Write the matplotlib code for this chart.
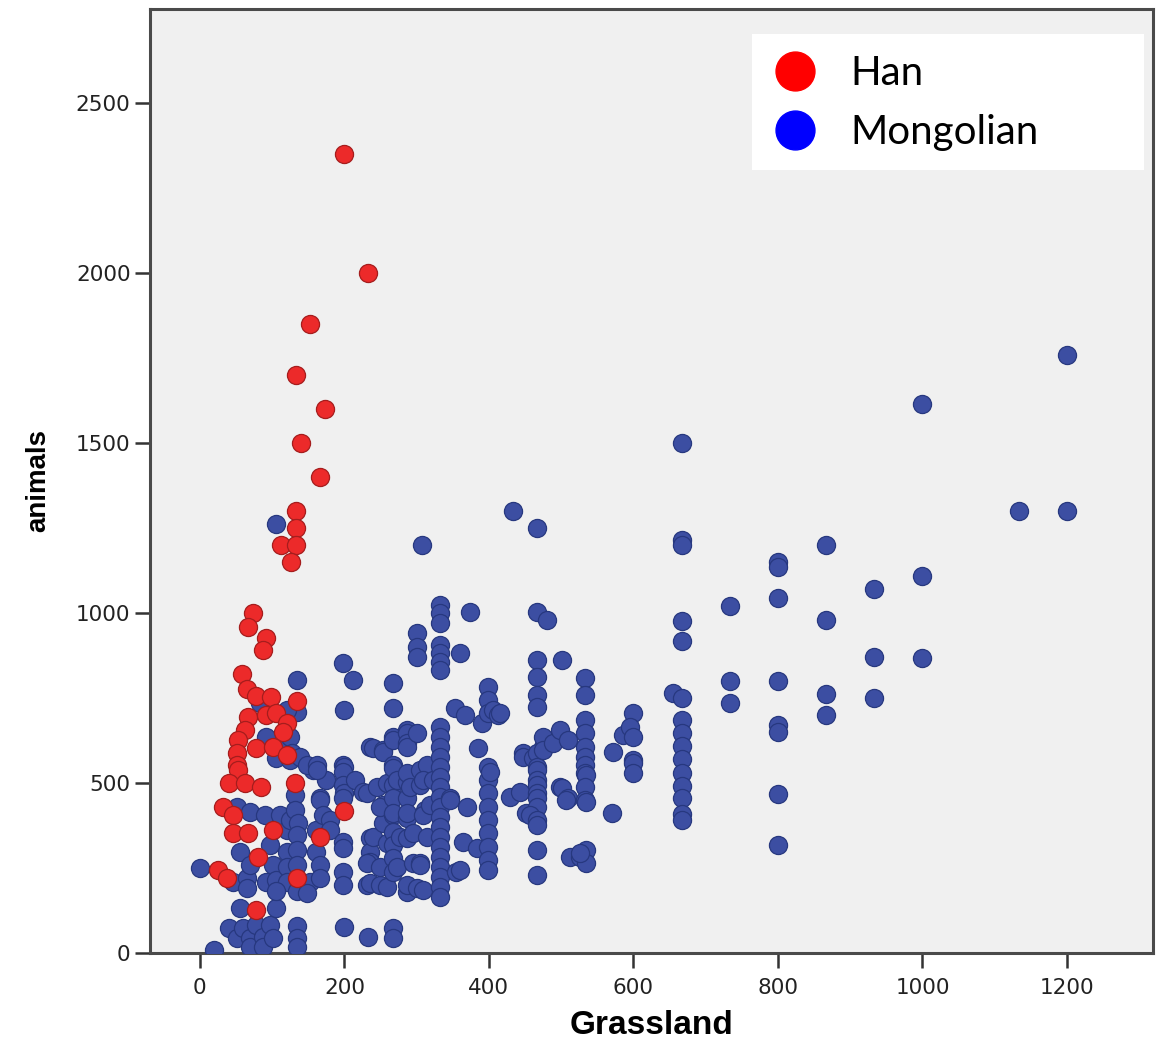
import matplotlib
matplotlib.use("Agg")
import matplotlib.pyplot as plt
from matplotlib.lines import Line2D
from matplotlib.patches import Rectangle

# Han households: grassland vs animals
han_x = [200, 233, 152, 133, 173, 140, 166, 133, 133, 112, 133, 126,
         73, 66, 92, 87, 59, 65, 78, 99, 134, 67, 92, 106, 120, 62, 115, 53, 78, 101, 51, 120, 51, 53,
         41, 62, 85, 131, 32, 46, 46, 67, 101, 166, 200, 81, 25, 37, 134, 78]
han_y = [2350, 2000, 1850, 1700, 1600, 1500, 1400, 1300, 1250, 1200, 1200, 1150,
         1000, 960, 925, 890, 820, 775, 755, 753, 740, 695, 700, 705, 676, 656, 651, 626, 602, 607, 587, 582, 553, 538,
         499, 499, 489, 500, 430, 405, 352, 352, 362, 342, 418, 283, 244, 220, 220, 126]

mon_left = [(0, 250), (20, 10), (41, 73), (46, 210), (51, 430), (51, 43), (55, 298), (55, 132), (60, 73),
            (65, 220), (65, 190), (69, 416), (69, 259), (69, 43), (69, 18), (78, 83), (90, 406), (92, 210),
            (88, 48), (88, 18), (97, 318), (101, 259), (97, 83), (101, 43), (106, 215), (106, 132), (111, 406),
            (120, 362), (120, 298), (120, 254), (120, 210), (125, 391), (131, 465), (131, 420), (136, 382),
            (134, 347), (134, 303), (134, 259), (134, 181), (134, 78), (134, 43), (134, 18), (134, 803),
            (134, 710), (134, 577), (152, 210), (157, 538), (166, 455), (161, 362), (161, 298), (166, 259),
            (166, 220), (166, 450), (171, 406), (180, 391), (180, 362), (175, 509), (105, 1262), (83, 735),
            (120, 714), (92, 635), (111, 606), (125, 635), (127, 588), (106, 573), (125, 568), (138, 576),
            (148, 553), (162, 553), (162, 538), (106, 181), (148, 176)]

mon_mid = [(198, 853), (200, 715), (198, 553), (200, 547), (198, 532), (198, 494), (200, 470), (198, 456),
           (198, 326), (198, 309), (198, 238), (198, 200), (200, 76), (212, 803), (215, 509),
           (226, 474), (235, 338), (235, 297), (235, 268), (231, 200), (235, 607), (233, 47), (231, 470),
           (231, 265), (235, 206), (240, 603), (240, 341), (253, 597), (253, 591), (253, 435), (253, 382),
           (249, 200), (245, 488), (259, 500), (249, 429), (249, 253), (259, 324), (259, 194),
           (267, 794), (267, 721), (267, 635), (267, 626), (267, 553), (267, 544), (267, 494), (267, 456),
           (267, 406), (267, 356), (267, 318), (267, 279), (267, 238), (267, 74), (267, 44), (273, 509),
           (267, 412), (277, 341), (273, 253), (286, 656), (286, 647), (286, 618), (286, 606), (286, 503),
           (286, 456), (286, 397), (286, 338), (286, 179), (286, 529), (286, 412), (286, 200),
           (300, 941), (300, 900), (300, 871), (300, 191), (291, 488), (300, 647), (295, 353), (295, 265),
           (304, 538), (304, 494), (311, 421), (309, 406), (314, 341), (304, 265), (304, 259), (314, 553),
           (318, 435), (309, 509), (309, 185), (323, 509), (307, 1200),
           (332, 1023), (332, 1000), (332, 970), (332, 906), (332, 882), (332, 856), (332, 832), (332, 665),
           (332, 635), (332, 606), (332, 576), (332, 547), (332, 518), (332, 488), (332, 459), (332, 429),
           (332, 400), (332, 371), (332, 341), (332, 312), (332, 282), (332, 253), (332, 224), (332, 194),
           (332, 165), (346, 456), (346, 450), (355, 238), (353, 721), (360, 882), (360, 244),
           (374, 1003), (367, 700), (370, 429), (364, 326), (385, 603), (390, 676), (383, 309),
           (399, 782), (399, 744), (399, 706), (399, 547), (399, 509), (399, 471), (399, 429), (399, 391),
           (399, 353), (399, 312), (399, 274), (399, 244), (401, 532), (406, 715), (412, 700), (415, 706),
           (429, 459), (433, 1300)]

mon_right = [(447, 588), (447, 576), (443, 474), (452, 412),
             (466, 1003), (466, 862), (466, 812), (466, 759), (466, 724), (461, 574), (475, 606), (466, 588),
             (466, 547), (466, 538), (466, 509), (466, 494), (466, 471), (466, 456), (466, 429), (457, 406),
             (466, 391), (466, 376), (466, 303), (466, 229), (467, 1250), (480, 979), (475, 635), (475, 597),
             (489, 618), (501, 862), (498, 656), (509, 626), (498, 488), (501, 485), (509, 456), (507, 450),
             (512, 282), (533, 809), (533, 759), (533, 685), (533, 647), (533, 606), (533, 576), (533, 553),
             (533, 529), (535, 524), (533, 488), (533, 450), (535, 444), (535, 303), (526, 282), (535, 265),
             (526, 294), (572, 591), (570, 412), (585, 641), (599, 706), (595, 665), (600, 635), (600, 568),
             (599, 559), (600, 529), (655, 765),
             (667, 1500), (667, 1215), (667, 1200), (667, 976), (667, 918), (667, 750), (667, 685), (667, 647),
             (667, 610), (667, 570), (667, 530), (667, 490), (667, 456), (667, 410), (667, 391),
             (733, 1020), (733, 800), (733, 735),
             (800, 1150), (800, 1135), (800, 1044), (800, 800), (800, 670), (800, 650), (800, 468), (800, 318),
             (867, 1200), (867, 979), (867, 762), (867, 700),
             (933, 1071), (933, 870), (933, 750),
             (1000, 1615), (1000, 1109), (1000, 868),
             (1133, 1300), (1200, 1759), (1200, 1300)]

mon = mon_left + mon_mid + mon_right
mon_x = [p[0] for p in mon]
mon_y = [p[1] for p in mon]

x_ticks = [0, 200, 400, 600, 800, 1000, 1200]
y_ticks = [0, 500, 1000, 1500, 2000, 2500]
groups = ["Han", "Mongolian"]

fig = plt.figure(figsize=(11.61, 10.48), dpi=100)
ax = fig.add_axes([150 / 1161, 95 / 1048, 1003 / 1161, 944 / 1048])
ax.set_facecolor("#f0f0f0")

ax.scatter(mon_x, mon_y, s=170, c="#3c4ea2", edgecolors="#27387f", linewidths=0.9, zorder=3)
ax.scatter(han_x, han_y, s=170, c="#ec2a2a", edgecolors="#a51d1d", linewidths=0.9, zorder=4)

ax.set_xlim(-69, 1319)
ax.set_ylim(0, 2776)
ax.set_xticks(x_ticks)
ax.set_yticks(y_ticks)
for sp in ax.spines.values():
    sp.set_color("#4a4a4a")
    sp.set_linewidth(2.2)
ax.tick_params(direction="out", length=11, width=1.8, color="#333333", labelsize=15.5,
               labelcolor="#222222", pad=3)
ax.tick_params(axis="x", pad=7)
for lab in ax.get_xticklabels() + ax.get_yticklabels():
    lab.set_family("DejaVu Sans")

ax.set_xlabel("Grassland", family="Liberation Sans", fontweight="bold", fontsize=24, labelpad=9)
ax.set_ylabel("animals", family="Liberation Sans", fontweight="bold", fontsize=20, labelpad=18)

# legend: white panel plus big round handles
box = Rectangle((752 / 1161, 1 - 170 / 1048), 392 / 1161, 136 / 1048, transform=fig.transFigure,
                facecolor="white", edgecolor="none", zorder=10, clip_on=False)
ax.add_patch(box)
handles = [Line2D([], [], ls="", marker="o", markersize=28, markerfacecolor=c, markeredgecolor=c)
           for c in ["#ff0000", "#0000ff"]]
leg = ax.legend(handles, groups, loc="upper left", bbox_to_anchor=(775 / 1161, 1 - 55 / 1048),
                bbox_transform=fig.transFigure, frameon=False, borderpad=0, borderaxespad=0,
                handlelength=1.0, handletextpad=0.87, labelspacing=0.55,
                prop={"family": "Lato", "size": 29})
leg.set_zorder(11)

fig.savefig("out.png", dpi=100)
